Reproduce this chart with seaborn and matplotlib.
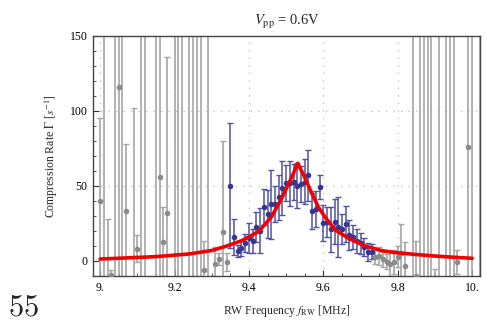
import numpy as np
import pandas as pd
import matplotlib
matplotlib.use("Agg")
import matplotlib.pyplot as plt
from matplotlib.ticker import MultipleLocator, FixedLocator
import seaborn as sns

# Measured compression rates outside the resonance (grey) and on it (blue)
grey_freq = [9.00, 9.01, 9.02, 9.03, 9.04, 9.05, 9.06, 9.07, 9.09, 9.10,
             9.11, 9.12, 9.15, 9.16, 9.17, 9.18, 9.20, 9.21, 9.22, 9.24,
             9.25, 9.26, 9.27, 9.28, 9.29, 9.31, 9.32, 9.33, 9.34,
             9.74, 9.75, 9.76, 9.77, 9.78, 9.79, 9.80, 9.81, 9.82, 9.84,
             9.85, 9.86, 9.87, 9.88, 9.89, 9.90, 9.91, 9.93, 9.94, 9.95,
             9.96, 9.99, 10.00, 10.02]
grey_rate = [40.0, -80.0, -25.0, -9.3, 170.0, 116.0, -70.0, 33.0, -30.0, 8.0,
             190.0, -90.0, 160.0, 56.0, 12.7, 32.0, -120.0, 210.0, -75.0, 175.0,
             -95.0, 230.0, -60.0, -6.0, 180.0, -2.0, 1.0, 19.0, -0.7,
             2.9, 3.3, 1.1, -0.4, -2.2, -0.4, 2.9, 5.6, -3.6, 200.0,
             -10.0, -100.0, 190.0, -80.0, 220.0, -15.0, -70.0, 170.0, -110.0, 180.0,
             -0.9, 76.0, -90.0, 200.0]
grey_err = [55.0, 260.0, 53.0, 3.0, 300.0, 190.0, 280.0, 45.0, 132.0, 9.0,
            260.0, 300.0, 240.0, 180.0, 23.0, 104.0, 330.0, 300.0, 260.0, 250.0,
            290.0, 320.0, 240.0, 19.0, 260.0, 11.0, 4.0, 61.0, 6.0,
            5.0, 6.0, 5.0, 5.0, 8.0, 8.0, 7.0, 19.0, 16.0, 280.0,
            23.0, 300.0, 260.0, 260.0, 300.0, 9.4, 250.0, 250.0, 300.0, 240.0,
            8.0, 160.0, 280.0, 300.0]

blue_freq = [9.35, 9.36, 9.37, 9.38, 9.39, 9.40, 9.41, 9.42, 9.43, 9.44,
             9.45, 9.46, 9.47, 9.48, 9.49, 9.50, 9.51, 9.52, 9.53, 9.54,
             9.55, 9.56, 9.57, 9.58, 9.59, 9.60, 9.61, 9.62, 9.63, 9.64,
             9.65, 9.66, 9.67, 9.68, 9.69, 9.70, 9.71, 9.72, 9.73]
blue_rate = [50.2, 16.2, 6.9, 8.4, 11.8, 15.1, 13.6, 22.9, 20.0, 36.2,
             31.0, 37.7, 37.8, 42.4, 48.9, 52.2, 51.8, 52.4, 50.2, 51.1,
             52.9, 57.3, 33.6, 34.4, 49.6, 25.6, 26.2, 21.1, 26.2, 22.4,
             21.1, 24.4, 17.3, 15.8, 13.6, 11.8, 9.6, 6.2, 6.2]
blue_err = [41.6, 12.0, 4.0, 5.0, 6.0, 10.0, 8.0, 10.0, 15.0, 12.0,
            16.0, 23.0, 12.0, 15.0, 18.0, 12.0, 15.0, 12.0, 15.0, 12.0,
            15.0, 17.0, 12.0, 12.0, 8.0, 12.0, 10.0, 15.0, 15.0, 20.0,
            10.0, 12.0, 10.0, 8.0, 8.0, 7.0, 6.0, 6.0, 5.0]

# Fitted resonance curve
fit_freq = [9.00, 9.15, 9.24, 9.30, 9.336, 9.381, 9.426, 9.461, 9.488, 9.515,
            9.531, 9.547, 9.565, 9.587, 9.605, 9.632, 9.668, 9.712, 9.757,
            9.793, 9.85, 9.90, 9.95, 10.00]
fit_rate = [1.3, 2.9, 4.7, 7.0, 9.6, 13.6, 19.6, 29.6, 41.8, 55.8,
            65.1, 57.3, 47.3, 35.8, 29.1, 20.7, 15.1, 10.0, 6.9,
            5.6, 4.3, 3.3, 2.5, 1.8]

x_ticks = [9.0, 9.2, 9.4, 9.6, 9.8, 10.0]
x_tick_labels = ["9.", "9.2", "9.4", "9.6", "9.8", "10."]
y_ticks = [0, 50, 100, 150]

grey = pd.DataFrame({"freq": grey_freq, "rate": grey_rate, "err": grey_err})
blue = pd.DataFrame({"freq": blue_freq, "rate": blue_rate, "err": blue_err})
fit = pd.DataFrame({"freq": fit_freq, "rate": fit_rate})

sns.set_theme(style="white")
plt.rcParams["font.family"] = ["Liberation Serif", "DejaVu Serif"]
plt.rcParams["mathtext.fontset"] = "stix"

fig = plt.figure(figsize=(4.87, 3.27), dpi=100)
ax = fig.add_axes([0.191, 0.156, 0.795, 0.734])

GREY_BAR = "#a6a6a6"
GREY_PT = "#8a8a8a"
BLUE_BAR = "#5252a4"
BLUE_PT = "#363690"

# dotted grid
for gx in x_ticks:
    ax.axvline(gx, color="#bdbdbd", lw=0.9, ls=(0, (1, 5)), zorder=0)
for gy in [50, 100]:
    ax.axhline(gy, color="#bdbdbd", lw=0.9, ls=(0, (1, 5)), zorder=0)

ax.errorbar(grey["freq"], grey["rate"], yerr=grey["err"], fmt="none",
            ecolor=GREY_BAR, elinewidth=1.2, capsize=2.2, capthick=1.0, zorder=1)
ax.errorbar(blue["freq"], blue["rate"], yerr=blue["err"], fmt="none",
            ecolor=BLUE_BAR, elinewidth=1.1, capsize=2.2, capthick=1.0, zorder=2)
sns.scatterplot(data=grey, x="freq", y="rate", ax=ax, color=GREY_PT, s=16,
                linewidth=0, zorder=3)
sns.scatterplot(data=blue, x="freq", y="rate", ax=ax, color=BLUE_PT, s=16,
                linewidth=0, zorder=4)
sns.lineplot(data=fit, x="freq", y="rate", ax=ax, color="#f00000", lw=2.6,
             zorder=5, sort=False)

ax.set_xlim(8.981, 10.0215)
ax.set_ylim(-10, 150)
ax.xaxis.set_major_locator(FixedLocator(x_ticks))
ax.set_xticklabels(x_tick_labels)
ax.yaxis.set_major_locator(FixedLocator(y_ticks))
ax.yaxis.set_minor_locator(MultipleLocator(10))
ax.xaxis.set_minor_locator(MultipleLocator(0.05))
ax.tick_params(which="both", direction="in", colors="#333333", labelcolor="black",
               labelsize=8.5, left=True, bottom=True, top=False, right=False)
ax.tick_params(which="major", length=4, width=0.8, pad=4)
ax.tick_params(which="minor", length=2.2, width=0.6)
for sp in ax.spines.values():
    sp.set_color("#444444")
    sp.set_linewidth(1.0)

ax.set_xlabel(r"RW Frequency $f_{\mathrm{RW}}$ [MHz]", fontsize=8.5, labelpad=7)
ax.set_ylabel(r"Compression Rate $\Gamma$ [$s^{-1}$]", fontsize=8.5, labelpad=7)
ax.set_title(r"$V_{\mathrm{pp}}$ = 0.6V", fontsize=10.5, pad=8)

fig.text(0.016, 0.035, r"$55$", fontsize=22, math_fontfamily="cm")

fig.savefig("out.png", dpi=100)
